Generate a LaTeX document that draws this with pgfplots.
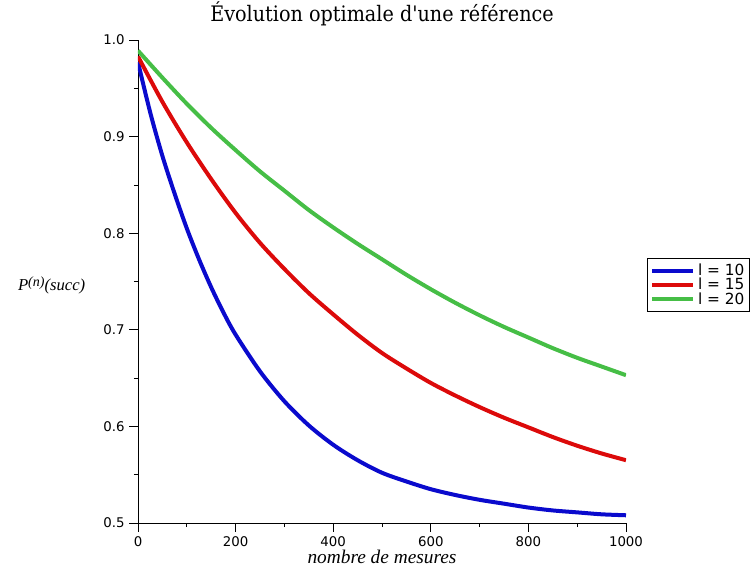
\documentclass[border=0pt]{standalone}
\usepackage{fontspec}
\setmainfont{DejaVu Sans}
\newfontfamily\titlefont{DejaVu Serif Condensed}
\newfontfamily\labelfont{Liberation Serif}
\usepackage{pgfplots}
\pgfplotsset{compat=1.18}
\definecolor{cblue}{RGB}{10,10,205}
\definecolor{cred}{RGB}{220,10,10}
\definecolor{cgreen}{RGB}{70,190,70}
\begin{document}
\begin{tikzpicture}
\useasboundingbox (-103.5pt,-36pt) rectangle (463.5pt,392.25pt);
\begin{axis}[
  at={(0,0)}, anchor=south west,
  scale only axis,
  width=366pt, height=362.25pt,
  xmin=0, xmax=1000, ymin=0.5, ymax=1.0,
  axis lines=left,
  axis line style={-, line width=0.6pt},
  xtick={0,200,400,600,800,1000},
  ytick={0.5,0.6,0.7,0.8,0.9,1.0},
  minor xtick={100,300,500,700,900},
  minor ytick={0.55,0.65,0.75,0.85,0.95},
  tick align=outside,
  major tick length=6.5pt, minor tick length=3pt,
  tick style={line width=0.6pt, black},
  /pgf/number format/assume math mode=true,
  /pgf/number format/1000 sep={},
  /pgf/number format/fixed, /pgf/number format/precision=1,
  /pgf/number format/fixed zerofill,
  xticklabel style={/pgf/number format/precision=0, /pgf/number format/fixed zerofill=false, font=\fontsize{10}{12}\selectfont},
  yticklabel style={font=\fontsize{10}{12}\selectfont},
  scaled ticks=false,
  title={\titlefont\fontsize{16}{19}\selectfont Évolution optimale d'une référence},
  title style={at={(axis description cs:0.5,1)}, anchor=base, yshift=8pt},
  xlabel={\labelfont\itshape\fontsize{14.5}{16}\selectfont nombre de mesures},
  every axis x label/.style={at={(axis description cs:0.5,0)}, anchor=base, yshift=-30pt},
  ylabel={\labelfont\itshape\fontsize{12.5}{14}\selectfont P\raisebox{0.55ex}{\fontsize{10.5}{11}\selectfont(n)}(succ)},
  every axis y label/.style={at={(axis description cs:0,0.5)}, anchor=east, xshift=-36pt, yshift=-3pt},
  legend style={at={(axis description cs:1,0.5)}, anchor=west, xshift=15.75pt, yshift=-2.6pt,
    draw=black, line width=0.6pt, font=\fontsize{11.5}{12}\selectfont, row sep=-3.5pt, inner sep=2pt},
  legend cell align=left,
  legend image code/.code={\draw[#1, line width=3pt] (0pt,0pt) -- (31pt,0pt);},
]
\addplot[cblue, line width=3pt, smooth] coordinates {
(0,0.977) (25,0.925) (50,0.880) (75,0.841) (100,0.805) (125,0.773) (150,0.744) (175,0.718)
(200,0.695) (250,0.657) (300,0.626) (350,0.601) (400,0.581) (450,0.565) (500,0.552)
(550,0.543) (600,0.535) (650,0.529) (700,0.524) (750,0.520) (800,0.516) (850,0.513)
(900,0.511) (950,0.509) (1000,0.508)};
\addlegendentry{l = 10}
\addplot[cred, line width=3pt, smooth] coordinates {
(0,0.983) (50,0.936) (100,0.894) (150,0.856) (200,0.821) (250,0.790) (300,0.763) (350,0.738)
(400,0.716) (450,0.695) (500,0.676) (550,0.660) (600,0.645) (650,0.632) (700,0.620)
(750,0.609) (800,0.599) (850,0.589) (900,0.580) (950,0.572) (1000,0.565)};
\addlegendentry{l = 15}
\addplot[cgreen, line width=3pt, smooth] coordinates {
(0,0.989) (50,0.961) (100,0.934) (150,0.909) (200,0.886) (250,0.864) (300,0.844) (350,0.824)
(400,0.806) (450,0.789) (500,0.773) (550,0.757) (600,0.742) (650,0.728) (700,0.715)
(750,0.703) (800,0.692) (850,0.681) (900,0.671) (950,0.662) (1000,0.653)};
\addlegendentry{l = 20}
\end{axis}
\end{tikzpicture}
\end{document}
